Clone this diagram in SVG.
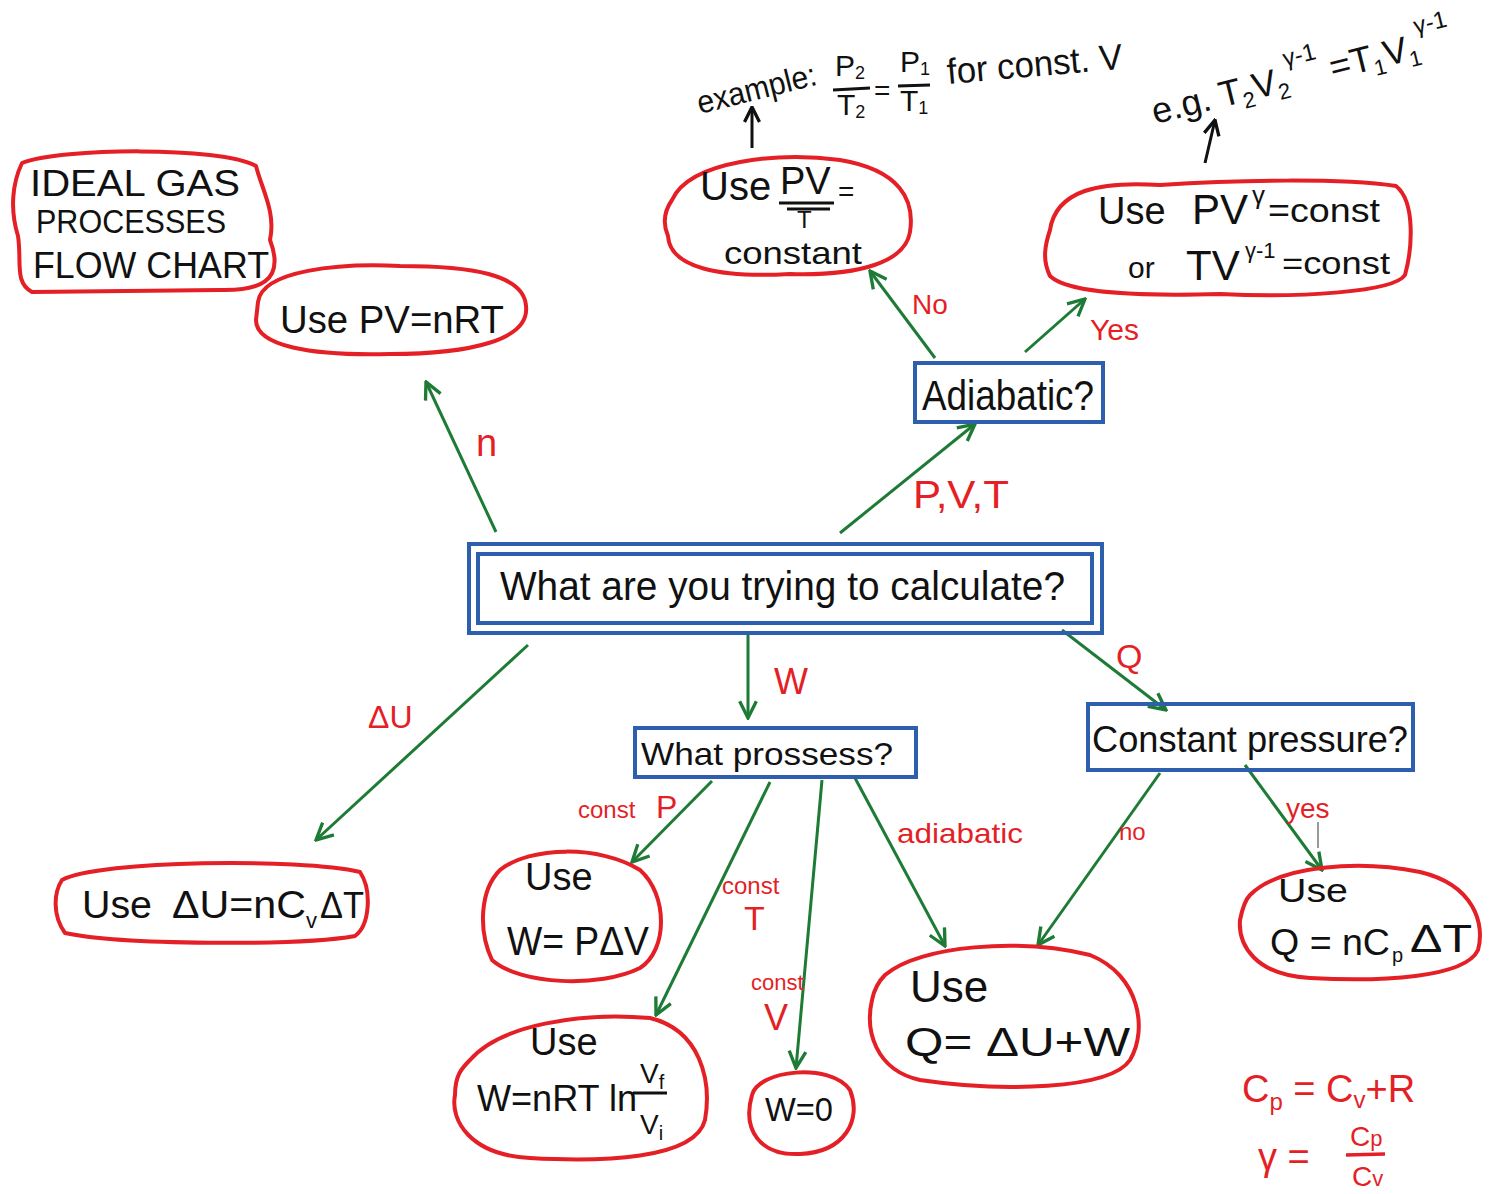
<svg xmlns="http://www.w3.org/2000/svg" width="1494" height="1194" viewBox="0 0 1494 1194">
<style>
.blob{fill:none;stroke:#e41f26;stroke-width:4;stroke-linejoin:round}
.box{fill:none;stroke:#2e5fae;stroke-width:4}
.conn{fill:none;stroke:#1e7b36;stroke-width:3;marker-end:url(#ga)}
.ann{fill:none;stroke:#111;stroke-width:3;marker-end:url(#ba)}
.t{font-family:"Liberation Sans","DejaVu Sans",sans-serif;fill:#111}
.r{font-family:"Liberation Sans","DejaVu Sans",sans-serif;fill:#e41f26}
</style>
<defs>
<marker id="ga" viewBox="0 0 12 12" refX="11" refY="6" markerWidth="20" markerHeight="20" markerUnits="userSpaceOnUse" orient="auto"><path d="M1,1 L11,6 L1,11" fill="none" stroke="#1e7b36" stroke-width="2"/></marker>
<marker id="ba" viewBox="0 0 12 12" refX="11" refY="6" markerWidth="18" markerHeight="18" markerUnits="userSpaceOnUse" orient="auto"><path d="M1,1 L11,6 L1,11" fill="none" stroke="#111" stroke-width="2.2"/></marker>
</defs>
<rect width="1494" height="1194" fill="#fff"/>

<g id="connectors">
<path class="conn" d="M496,532 L426,382"/>
<path class="conn" d="M840,533 L975,424"/>
<path class="conn" d="M935,358 L870,271"/>
<path class="conn" d="M1025,352 L1085,299"/>
<path class="conn" d="M748,633 L748,718"/>
<path class="conn" d="M528,645 L316,840"/>
<path class="conn" d="M1062,630 L1166,710"/>
<path class="conn" d="M712,781 L632,862"/>
<path class="conn" d="M770,782 L656,1015"/>
<path class="conn" d="M822,780 L796,1068"/>
<path class="conn" d="M855,778 L945,946"/>
<path class="conn" d="M1160,773 L1038,945"/>
<path class="conn" d="M1245,765 L1322,870"/>
<path d="M1318,822 L1318,848" stroke="#777" stroke-width="1.5"/>
<path class="ann" d="M752,148 L752,107"/>
<path class="ann" d="M1205,163 L1215,120"/>
</g>

<g id="labels">
<text class="r" x="476" y="456" font-size="38">n</text>
<text class="r" x="913" y="508" font-size="38" textLength="96" lengthAdjust="spacingAndGlyphs">P,V,T</text>
<text class="r" x="912" y="314" font-size="28">No</text>
<text class="r" x="1090" y="340" font-size="30">Yes</text>
<text class="r" x="774" y="694" font-size="36">W</text>
<text class="r" x="368" y="728" font-size="32">ΔU</text>
<text class="r" x="1116" y="668" font-size="34">Q</text>
<text class="r" x="578" y="818" font-size="24">const</text>
<text class="r" x="656" y="818" font-size="32">P</text>
<text class="r" x="722" y="894" font-size="24">const</text>
<text class="r" x="744" y="930" font-size="34">T</text>
<text class="r" x="751" y="990" font-size="22">const</text>
<text class="r" x="764" y="1030" font-size="36">V</text>
<text class="r" x="897" y="843" font-size="28" textLength="126" lengthAdjust="spacingAndGlyphs">adiabatic</text>
<text class="r" x="1119" y="840" font-size="24">no</text>
<text class="r" x="1286" y="818" font-size="28">yes</text>
</g>

<g id="title">
<path class="blob" d="M22,163 C60,148 220,146 256,166 C262,190 276,212 270,240 C286,282 258,291 220,290 L32,292 C14,282 22,262 18,236 C10,210 12,184 22,163 Z"/>
<text class="t" x="30" y="196" font-size="36" textLength="210" lengthAdjust="spacingAndGlyphs">IDEAL GAS</text>
<text class="t" x="36" y="233" font-size="34" textLength="190" lengthAdjust="spacingAndGlyphs">PROCESSES</text>
<text class="t" x="33" y="278" font-size="36" textLength="236" lengthAdjust="spacingAndGlyphs">FLOW CHART</text>
</g>

<g id="n-pvnrt">
<path class="blob" d="M258,302 C262,270 340,263 400,266 C470,266 524,274 526,306 C530,340 470,354 390,354 C310,356 256,346 256,320 Z"/>
<text class="t" x="280" y="333" font-size="38" textLength="224" lengthAdjust="spacingAndGlyphs">Use PV=nRT</text>
</g>

<g id="n-pvt">
<path class="blob" d="M672,200 C690,160 780,152 840,160 C900,170 915,200 910,232 C905,262 860,276 790,274 C720,278 670,268 668,236 C662,222 665,210 672,200 Z"/>
<text class="t" x="700" y="200" font-size="40">Use</text>
<text class="t" x="780" y="194" font-size="38">PV</text>
<path d="M779,203 L834,203 M787,209 L830,209" stroke="#111" stroke-width="3"/>
<text class="t" x="838" y="201" font-size="28">=</text>
<text class="t" x="797" y="228" font-size="24">T</text>
<text class="t" x="724" y="264" font-size="32" textLength="138" lengthAdjust="spacingAndGlyphs">constant</text>
</g>

<g id="n-pvgamma">
<path class="blob" d="M1050,230 C1056,190 1100,181 1160,185 C1240,180 1340,178 1396,186 C1416,202 1412,250 1405,275 C1394,292 1300,298 1220,294 C1150,296 1070,295 1050,276 C1042,260 1045,245 1050,230 Z"/>
<text class="t" x="1098" y="224" font-size="38">Use</text>
<text class="t" x="1192" y="224" font-size="42">PV</text>
<text class="t" x="1252" y="204" font-size="26">γ</text>
<text class="t" x="1268" y="222" font-size="34" textLength="112" lengthAdjust="spacingAndGlyphs">=const</text>
<text class="t" x="1128" y="278" font-size="30">or</text>
<text class="t" x="1186" y="280" font-size="42">TV</text>
<text class="t" x="1245" y="258" font-size="22">γ-1</text>
<text class="t" x="1282" y="274" font-size="32" textLength="108" lengthAdjust="spacingAndGlyphs">=const</text>
</g>

<g id="n-adiabatic">
<rect class="box" x="915" y="363" width="188" height="59"/>
<text class="t" x="922" y="410" font-size="42" textLength="172" lengthAdjust="spacingAndGlyphs">Adiabatic?</text>
</g>

<g id="n-main">
<rect class="box" x="469" y="544" width="633" height="89"/>
<rect class="box" x="478" y="554" width="614" height="69"/>
<text class="t" x="500" y="600" font-size="40" textLength="565" lengthAdjust="spacingAndGlyphs">What are you trying to calculate?</text>
</g>

<g id="n-process">
<rect class="box" x="635" y="728" width="281" height="49"/>
<text class="t" x="641" y="765" font-size="32" textLength="252" lengthAdjust="spacingAndGlyphs">What prossess?</text>
</g>

<g id="n-constp">
<rect class="box" x="1088" y="704" width="325" height="66"/>
<text class="t" x="1092" y="752" font-size="36" textLength="316" lengthAdjust="spacingAndGlyphs">Constant pressure?</text>
</g>

<g id="n-du">
<path class="blob" d="M62,880 C100,860 300,858 360,872 C372,890 370,925 355,936 C300,946 120,945 65,933 C52,915 54,892 62,880 Z"/>
<text class="t" x="82" y="918" font-size="38" textLength="70" lengthAdjust="spacingAndGlyphs">Use</text>
<text class="t" x="172" y="918" font-size="38" textLength="134" lengthAdjust="spacingAndGlyphs">ΔU=nC</text>
<text class="t" x="306" y="928" font-size="22">v</text>
<text class="t" x="320" y="918" font-size="36" textLength="44" lengthAdjust="spacingAndGlyphs">ΔT</text>
</g>

<g id="n-wpdv">
<path class="blob" d="M500,870 C530,846 600,845 640,870 C668,895 668,950 640,968 C600,988 520,985 492,960 C478,930 480,890 500,870 Z"/>
<text class="t" x="525" y="890" font-size="38">Use</text>
<text class="t" x="507" y="955" font-size="40" textLength="142" lengthAdjust="spacingAndGlyphs">W= PΔV</text>
</g>

<g id="n-wnrt">
<path class="blob" d="M470,1060 C500,1025 580,1012 650,1018 C700,1030 712,1080 705,1120 C695,1160 600,1162 530,1158 C470,1155 450,1120 455,1095 C455,1075 462,1068 470,1060 Z"/>
<text class="t" x="530" y="1055" font-size="38">Use</text>
<text class="t" x="477" y="1111" font-size="36" textLength="160" lengthAdjust="spacingAndGlyphs">W=nRT ln</text>
<path d="M633,1093 L667,1093" stroke="#111" stroke-width="3"/>
<text class="t" x="640" y="1083" font-size="28">V<tspan font-size="20" dy="6">f</tspan></text>
<text class="t" x="640" y="1134" font-size="28">V<tspan font-size="20" dy="6">i</tspan></text>
</g>

<g id="n-w0">
<path class="blob" d="M752,1095 C758,1070 830,1062 850,1090 C862,1120 845,1152 800,1154 C760,1156 742,1130 752,1095 Z"/>
<text class="t" x="765" y="1121" font-size="34" textLength="68" lengthAdjust="spacingAndGlyphs">W=0</text>
</g>

<g id="n-qduw">
<path class="blob" d="M885,975 C920,945 1020,938 1090,955 C1140,975 1148,1030 1130,1060 C1110,1090 1000,1092 920,1080 C875,1070 865,1030 872,1000 C874,990 878,982 885,975 Z"/>
<text class="t" x="910" y="1002" font-size="44">Use</text>
<text class="t" x="905" y="1056" font-size="40" textLength="225" lengthAdjust="spacingAndGlyphs">Q= ΔU+W</text>
</g>

<g id="n-qncp">
<path class="blob" d="M1250,895 C1280,865 1360,860 1420,872 C1475,885 1485,925 1478,950 C1465,978 1380,982 1310,978 C1255,975 1238,945 1240,920 C1242,910 1245,900 1250,895 Z"/>
<text class="t" x="1278" y="902" font-size="34" textLength="70" lengthAdjust="spacingAndGlyphs">Use</text>
<text class="t" x="1270" y="955" font-size="36" textLength="120" lengthAdjust="spacingAndGlyphs">Q = nC</text>
<text class="t" x="1392" y="962" font-size="20">p</text>
<text class="t" x="1410" y="952" font-size="38" textLength="62" lengthAdjust="spacingAndGlyphs">ΔT</text>
</g>

<g id="annot-example">
<text class="t" x="700" y="114" font-size="32" transform="rotate(-14 700 114)" textLength="122" lengthAdjust="spacingAndGlyphs">example:</text>
<text class="t" x="835" y="76" font-size="30">P<tspan font-size="18" dy="3">2</tspan></text>
<path d="M833,90 L870,88" stroke="#111" stroke-width="3"/>
<text class="t" x="837" y="115" font-size="30">T<tspan font-size="18" dy="3">2</tspan></text>
<text class="t" x="874" y="100" font-size="28">=</text>
<text class="t" x="900" y="72" font-size="30">P<tspan font-size="18" dy="3">1</tspan></text>
<path d="M898,86 L930,85" stroke="#111" stroke-width="3"/>
<text class="t" x="900" y="111" font-size="30">T<tspan font-size="18" dy="3">1</tspan></text>
<text class="t" x="948" y="84" font-size="36" transform="rotate(-5 948 84)" textLength="176" lengthAdjust="spacingAndGlyphs">for const. V</text>
</g>

<g id="annot-eg">
<text class="t" x="1155" y="124" font-size="36" transform="rotate(-14 1155 124)">e.g. T<tspan font-size="22" dy="7">2</tspan><tspan dy="-7">V</tspan><tspan font-size="22" dy="7">2</tspan><tspan font-size="24" dy="-31">γ-1</tspan><tspan dy="24"> =T</tspan><tspan font-size="22" dy="7">1</tspan><tspan dy="-7">V</tspan><tspan font-size="22" dy="7">1</tspan><tspan font-size="24" dy="-31">γ-1</tspan></text>
</g>

<g id="formulas">
<text class="r" x="1242" y="1102" font-size="38">C<tspan font-size="24" dy="8">p</tspan><tspan dy="-8"> = C</tspan><tspan font-size="24" dy="6">v</tspan><tspan dy="-6">+R</tspan></text>
<text class="r" x="1258" y="1170" font-size="38">γ =</text>
<text class="r" x="1350" y="1146" font-size="28">C<tspan font-size="22">p</tspan></text>
<path d="M1346,1155 L1385,1154" stroke="#e41f26" stroke-width="3.5"/>
<text class="r" x="1352" y="1186" font-size="28">C<tspan font-size="22">v</tspan></text>
</g>
</svg>
